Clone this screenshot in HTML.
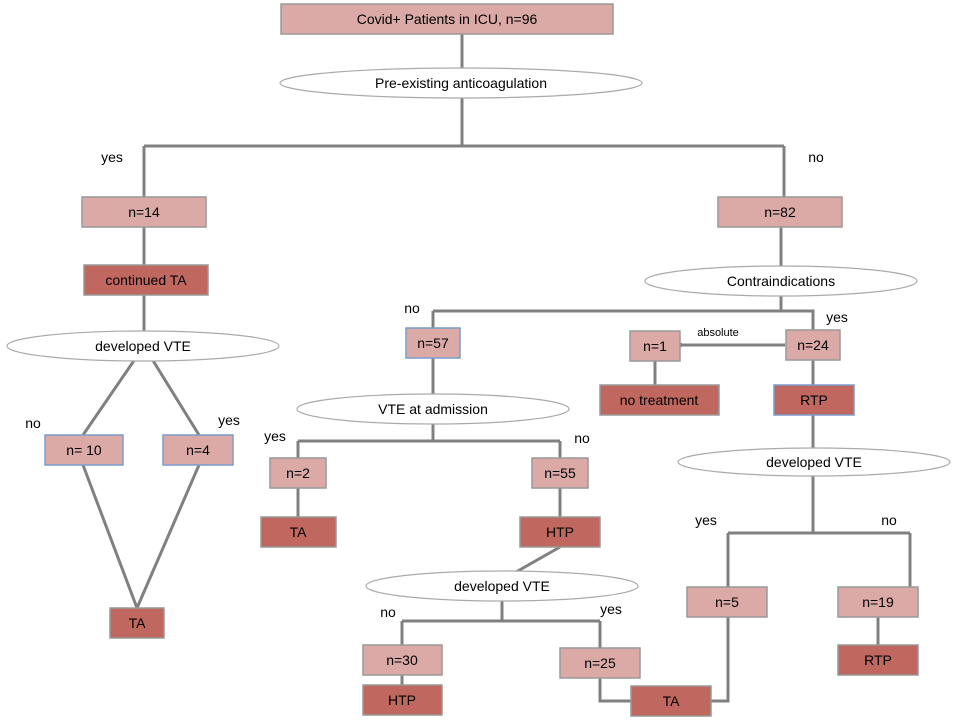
<!DOCTYPE html><html><head><style>body{margin:0;background:#fff}</style></head><body>
<svg width="957" height="721" viewBox="0 0 957 721" xmlns="http://www.w3.org/2000/svg" font-family="Liberation Sans, sans-serif" font-size="14" text-anchor="middle">
<defs><marker id="a" markerWidth="10" markerHeight="10" refX="2" refY="5" orient="auto" markerUnits="userSpaceOnUse"><path d="M9,1 L2,5 L9,9" fill="none" stroke="#808080" stroke-width="2"/></marker></defs>
<g stroke="#808080" stroke-width="3" fill="none">
<path d="M462 34V146M144 146H784M144 146V197M784 146V197"/>
<path d="M144 227V265M144 295V346M144 346L83 435M144 346L199 435M83 465L137 608M199 465L137 608"/>
<path d="M781 227V311M433 311H813V330M433 311V328"/>
<path d="M785 345H683" marker-end="url(#a)"/>
<path d="M655 361V385M813 360V385M813 415V533M728 533H910M728 533V587M910 533V587M878 617V645"/>
<path d="M433 358V441M298 441H560M298 441V458M560 441V458M298 488V517M560 488V517M560 547L502 580M502 585V621M402 621H600M402 621V645M600 621V648M402 675V685M600 678V701H631M711 701H728V617"/>
</g>
<g stroke="#999" stroke-width="1.5">
<rect x="281" y="4" width="332" height="30" fill="#dbaaa7"/>
<rect x="82" y="197" width="124" height="30" fill="#dbaaa7"/>
<rect x="718" y="197" width="124" height="30" fill="#dbaaa7"/>
<rect x="84" y="265" width="124" height="30" fill="#c0675f"/>
<rect x="45" y="435" width="78" height="30" fill="#dbaaa7" stroke="#7a9ccc"/>
<rect x="163" y="435" width="70" height="30" fill="#dbaaa7" stroke="#7a9ccc"/>
<rect x="110" y="608" width="54" height="30" fill="#c0675f"/>
<rect x="406" y="328" width="54" height="30" fill="#dbaaa7" stroke="#7a9ccc"/>
<rect x="630" y="331" width="50" height="30" fill="#dbaaa7"/>
<rect x="786" y="330" width="54" height="30" fill="#dbaaa7"/>
<rect x="600" y="385" width="119" height="30" fill="#c0675f"/>
<rect x="774" y="385" width="80" height="30" fill="#c0675f" stroke="#7a9ccc"/>
<rect x="270" y="458" width="56" height="30" fill="#dbaaa7"/>
<rect x="532" y="458" width="56" height="30" fill="#dbaaa7"/>
<rect x="261" y="517" width="75" height="30" fill="#c0675f"/>
<rect x="520" y="517" width="80" height="30" fill="#c0675f"/>
<rect x="363" y="645" width="79" height="30" fill="#dbaaa7"/>
<rect x="363" y="685" width="79" height="30" fill="#c0675f"/>
<rect x="560" y="648" width="80" height="30" fill="#dbaaa7"/>
<rect x="631" y="686" width="80" height="30" fill="#c0675f"/>
<rect x="687" y="587" width="80" height="30" fill="#dbaaa7"/>
<rect x="838" y="587" width="80" height="30" fill="#dbaaa7"/>
<rect x="838" y="645" width="80" height="30" fill="#c0675f"/>
</g>
<g fill="#fff" stroke="#aaa" stroke-width="1.2">
<ellipse cx="461" cy="83" rx="181" ry="15"/>
<ellipse cx="143" cy="346" rx="136" ry="15"/>
<ellipse cx="781" cy="281" rx="136" ry="15"/>
<ellipse cx="433" cy="409" rx="136" ry="15"/>
<ellipse cx="502" cy="586" rx="136" ry="15"/>
<ellipse cx="814" cy="462" rx="136" ry="14"/>
</g>
<g fill="#000">
<text x="447" y="24">Covid+ Patients in ICU, n=96</text>
<text x="461" y="88">Pre-existing anticoagulation</text>
<text x="144" y="217">n=14</text><text x="780" y="217">n=82</text>
<text x="146" y="285">continued TA</text>
<text x="143" y="351">developed VTE</text>
<text x="84" y="455">n= 10</text><text x="198" y="455">n=4</text>
<text x="137" y="628">TA</text>
<text x="781" y="286">Contraindications</text>
<text x="433" y="348">n=57</text><text x="655" y="351">n=1</text><text x="813" y="350">n=24</text>
<text x="659" y="405">no treatment</text><text x="814" y="405">RTP</text>
<text x="433" y="414">VTE at admission</text>
<text x="298" y="478">n=2</text><text x="560" y="478">n=55</text>
<text x="298" y="537">TA</text><text x="560" y="537">HTP</text>
<text x="502" y="591">developed VTE</text>
<text x="814" y="467">developed VTE</text>
<text x="402" y="665">n=30</text><text x="402" y="705">HTP</text>
<text x="600" y="668">n=25</text><text x="671" y="706">TA</text>
<text x="727" y="607">n=5</text><text x="878" y="607">n=19</text><text x="878" y="665">RTP</text>
<text x="112" y="162">yes</text><text x="816" y="162">no</text>
<text x="33" y="428">no</text><text x="229" y="425">yes</text>
<text x="412" y="313">no</text><text x="837" y="322">yes</text>
<text x="718" y="336" font-size="11">absolute</text>
<text x="275" y="441">yes</text><text x="582" y="443">no</text>
<text x="388" y="617">no</text><text x="611" y="614">yes</text>
<text x="706" y="525">yes</text><text x="889" y="525">no</text>
</g>
</svg>
</body></html>
